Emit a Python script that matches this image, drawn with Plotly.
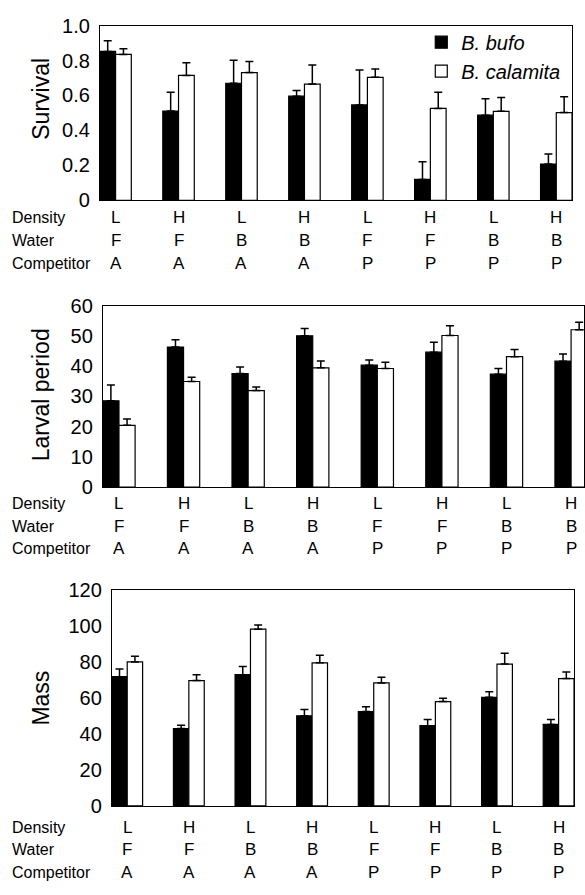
import plotly.graph_objects as go

# ---------------- data ----------------
density = ["L", "H", "L", "H", "L", "H", "L", "H"]
water = ["F", "F", "B", "B", "F", "F", "B", "B"]
competitor = ["A", "A", "A", "A", "P", "P", "P", "P"]
groups = [f"{d}-{w}-{c}-{i}" for i, (d, w, c) in enumerate(zip(density, water, competitor))]

species = ["B. bufo", "B. calamita"]

survival_bufo = [0.852, 0.511, 0.670, 0.596, 0.546, 0.119, 0.487, 0.207]
survival_bufo_se = [0.061, 0.108, 0.132, 0.032, 0.200, 0.101, 0.094, 0.058]
survival_cal = [0.835, 0.715, 0.731, 0.665, 0.704, 0.526, 0.509, 0.502]
survival_cal_se = [0.032, 0.072, 0.063, 0.109, 0.048, 0.093, 0.080, 0.091]

larval_bufo = [28.5, 46.3, 37.5, 50.0, 40.3, 44.6, 37.3, 41.6]
larval_bufo_se = [5.2, 2.4, 2.2, 2.4, 1.7, 3.3, 1.9, 2.4]
larval_cal = [20.4, 34.9, 31.9, 39.4, 39.2, 50.1, 43.1, 52.0]
larval_cal_se = [2.1, 1.4, 1.2, 2.3, 2.1, 3.2, 2.4, 2.5]

mass_bufo = [72.0, 43.1, 73.1, 50.2, 52.6, 44.7, 60.5, 45.4]
mass_bufo_se = [4.2, 1.8, 4.6, 3.5, 2.7, 3.5, 3.1, 2.8]
mass_cal = [80.2, 69.8, 98.4, 79.7, 68.5, 58.1, 79.0, 70.9]
mass_cal_se = [3.2, 3.3, 2.4, 4.2, 3.1, 1.8, 6.0, 3.7]

survival_ticks = [0, 0.2, 0.4, 0.6, 0.8, 1.0]
survival_ticktext = ["0", "0.2", "0.4", "0.6", "0.8", "1.0"]
larval_ticks = [0, 10, 20, 30, 40, 50, 60]
mass_ticks = [0, 20, 40, 60, 80, 100, 120]

row_names = ["Density", "Water", "Competitor"]
row_values = [density, water, competitor]

# ---------------- layout geometry (pixels) ----------------
W, H = 585, 895
FONT = "Liberation Sans, Arial, sans-serif"

panels = [
    dict(title="Survival", bufo=survival_bufo, bse=survival_bufo_se, cal=survival_cal, cse=survival_cal_se,
         ticks=survival_ticks, ticktext=survival_ticktext, yr=[0, 1.0],
         left=100, right=573, top=15, bottom=194, xr=[-0.25, 7.25],
         rows=[212, 235, 259], title_y=90),
    dict(title="Larval period", bufo=larval_bufo, bse=larval_bufo_se, cal=larval_cal, cse=larval_cal_se,
         ticks=larval_ticks, ticktext=[str(t) for t in larval_ticks], yr=[0, 60],
         left=103, right=585, top=302, bottom=488, xr=[-0.25, 7.2],
         rows=[505, 528, 551], title_y=393),
    dict(title="Mass", bufo=mass_bufo, bse=mass_bufo_se, cal=mass_cal, cse=mass_cal_se,
         ticks=mass_ticks, ticktext=[str(t) for t in mass_ticks], yr=[0, 120],
         left=112, right=575, top=594, bottom=815, xr=[-0.25, 7.25],
         rows=[837, 860, 883], title_y=704),
]

fig = go.Figure()
annotations = []

for i, p in enumerate(panels):
    n = "" if i == 0 else str(i + 1)
    xa, ya = "x" + n, "y" + n
    for sp, vals, se, fill in [(species[0], p["bufo"], p["bse"], "black"),
                               (species[1], p["cal"], p["cse"], "white")]:
        fig.add_trace(go.Bar(
            x=groups, y=vals, name=f"<i>{sp}</i>", xaxis=xa, yaxis=ya,
            marker=dict(color=fill, line=dict(color="black", width=1.2)),
            error_y=dict(type="data", array=se, arrayminus=[0] * len(se), symmetric=False,
                         color="black", thickness=1.5, width=4),
            offsetgroup=sp, legendgroup=sp, showlegend=(i == 0),
        ))
    dom_x = [p["left"] / W, p["right"] / W]
    dom_y = [1 - p["bottom"] / H, 1 - p["top"] / H]
    fig.layout["xaxis" + n] = dict(domain=dom_x, range=p["xr"], anchor=ya, showticklabels=False,
                                   ticks="", showline=True, linecolor="black", linewidth=1,
                                   mirror=True, showgrid=False, zeroline=False, type="category")
    fig.layout["yaxis" + n] = dict(domain=dom_y, range=p["yr"], anchor=xa, tickvals=p["ticks"],
                                   ticktext=p["ticktext"], ticks="", showline=True,
                                   linecolor="black", linewidth=1, mirror=True, showgrid=False,
                                   zeroline=False, ticklabelstandoff=5,
                                   tickfont=dict(size=20, color="black", family=FONT))
    # axis title
    annotations.append(dict(text=p["title"], xref="paper", yref="paper", x=41 / W,
                            y=1 - p["title_y"] / H, textangle=-90, showarrow=False,
                            xanchor="center", yanchor="middle",
                            font=dict(size=23, color="black", family=FONT)))
    # factor rows
    for rn, rv, ry in zip(row_names, row_values, p["rows"]):
        annotations.append(dict(text=rn, xref="paper", yref="paper", x=10 / W, y=1 - ry / H,
                                showarrow=False, xanchor="left", yanchor="middle",
                                font=dict(size=16, color="black", family=FONT)))
        for g, v in zip(groups, rv):
            annotations.append(dict(text=v, xref=xa, yref="paper", x=g, y=1 - ry / H,
                                    showarrow=False, xanchor="center", yanchor="middle",
                                    font=dict(size=17, color="black", family=FONT)))

fig.update_layout(
    width=W, height=H, margin=dict(l=0, r=0, t=0, b=0),
    paper_bgcolor="white", plot_bgcolor="white",
    barmode="group", bargap=0.5, bargroupgap=0,
    annotations=annotations,
    showlegend=True,
    legend=dict(x=422 / W, y=1 - 12 / H, xanchor="left", yanchor="top",
                bgcolor="rgba(0,0,0,0)", font=dict(size=20, color="black", family=FONT),
                itemwidth=30, tracegroupgap=0),
    font=dict(family=FONT, color="black"),
)

fig.write_html("out.html", config={"displayModeBar": False},
               post_script="document.body.style.margin='0';document.body.style.overflow='hidden';")
